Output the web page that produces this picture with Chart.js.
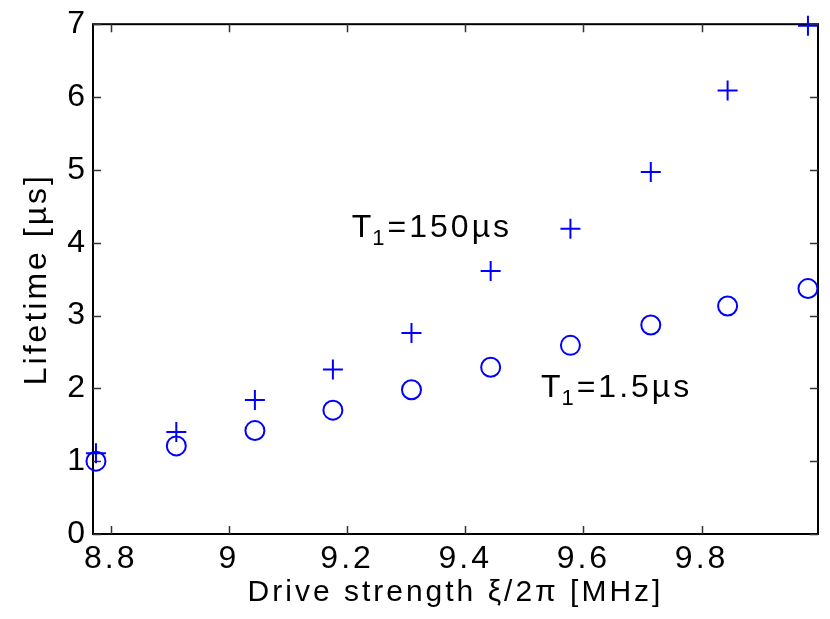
<!DOCTYPE html>
<html>
<head>
<meta charset="utf-8">
<script src="https://cdn.jsdelivr.net/npm/chart.js@4.4.0/dist/chart.umd.min.js"></script>
<style>
    html, body { margin: 0; padding: 0; background: #fff; }
</style>
</head>
<body>
<canvas id="myChart" width="830" height="619"></canvas>
<script>
// drive strength xi/2pi [MHz]
const drive = [8.775, 8.911, 9.044, 9.176, 9.309, 9.443, 9.578, 9.714, 9.844, 9.98];
// lifetime [us] for T1 = 150us (crosses)
const lifeLongT1 = [1.11, 1.40, 1.84, 2.26, 2.76, 3.61, 4.19, 4.97, 6.09, 6.98];
// lifetime [us] for T1 = 1.5us (circles)
const lifeShortT1 = [1.00, 1.21, 1.42, 1.70, 1.98, 2.29, 2.59, 2.87, 3.13, 3.37];

const xTicks = [8.8, 9, 9.2, 9.4, 9.6, 9.8];
const yTicks = [0, 1, 2, 3, 4, 5, 6, 7];

// text labels inside the plot, anchored in data units
const notes = [
    { text: 'T', sub: '1', rest: '=150µs', x: 9.208, y: 4.08 },
    { text: 'T', sub: '1', rest: '=1.5µs', x: 9.528, y: 1.885 }
];

const FONT = '"Liberation Sans", Arial, sans-serif';
const BLUE = '#0000ff';

const toPoints = (xs, ys) => xs.map((v, i) => ({ x: v, y: ys[i] }));

// matlab-like box with inward ticks + in-plot labels
const matlabBox = {
    id: 'matlabBox',
    beforeDraw(chart) {
        chart.ctx.letterSpacing = '3px';
    },
    beforeDatasetsDraw(chart) {
        const { ctx, chartArea: a, scales: { x, y } } = chart;
        ctx.save();
        ctx.strokeStyle = '#000';
        ctx.lineWidth = 2;
        ctx.strokeRect(a.left, a.top, a.right - a.left, a.bottom - a.top);
        ctx.strokeStyle = '#333';
        ctx.lineWidth = 1.5;
        ctx.beginPath();
        x.ticks.forEach(t => {
            const px = Math.round(x.getPixelForValue(t.value)) + 0.5;
            ctx.moveTo(px, a.bottom); ctx.lineTo(px, a.bottom - 8);
            ctx.moveTo(px, a.top); ctx.lineTo(px, a.top + 8);
        });
        y.ticks.forEach(t => {
            const py = Math.round(y.getPixelForValue(t.value)) + 0.5;
            ctx.moveTo(a.left, py); ctx.lineTo(a.left + 8, py);
            ctx.moveTo(a.right, py); ctx.lineTo(a.right - 8, py);
        });
        ctx.stroke();
        ctx.restore();
    },
    afterDatasetsDraw(chart) {
        const { ctx, scales: { x, y } } = chart;
        ctx.save();
        ctx.fillStyle = '#000';
        ctx.textAlign = 'left';
        ctx.textBaseline = 'alphabetic';
        notes.forEach(n => {
            let px = x.getPixelForValue(n.x);
            const py = y.getPixelForValue(n.y);
            ctx.font = '32px ' + FONT;
            ctx.fillText(n.text, px, py);
            px += ctx.measureText(n.text).width - 2;
            ctx.font = '22px ' + FONT;
            ctx.fillText(n.sub, px, py + 8);
            px += ctx.measureText(n.sub).width;
            ctx.font = '32px ' + FONT;
            ctx.fillText(n.rest, px, py);
        });
        ctx.restore();
    }
};

const config = {
    type: 'scatter',
    data: {
        datasets: [{
            label: 'T1=150us',
            data: toPoints(drive, lifeLongT1),
            pointStyle: 'cross',
            pointRadius: 10,
            borderColor: BLUE,
            borderWidth: 2,
            clip: false
        }, {
            label: 'T1=1.5us',
            data: toPoints(drive, lifeShortT1),
            pointStyle: 'circle',
            pointRadius: 9.5,
            borderColor: BLUE,
            backgroundColor: 'rgba(0,0,0,0)',
            borderWidth: 2,
            clip: false
        }]
    },
    options: {
        responsive: false,
        animation: false,
        layout: { padding: { top: 24, right: 8, left: 0, bottom: 0 } },
        plugins: {
            legend: false,
            tooltip: { enabled: false }
        },
        scales: {
            x: {
                type: 'linear',
                min: 8.77,
                max: 9.997,
                afterBuildTicks: s => { s.ticks = xTicks.map(v => ({ value: v })); },
                afterFit: s => { s.height = 85; },
                grid: { display: false, drawTicks: false },
                border: { display: false },
                ticks: {
                    color: '#000',
                    font: { family: FONT, size: 32 },
                    padding: 6,
                    maxRotation: 0,
                    autoSkip: false,
                    callback: v => String(v)
                },
                title: {
                    display: true,
                    text: 'Drive strength ξ/2π [MHz]',
                    color: '#000',
                    font: { family: FONT, size: 30 },
                    padding: { top: 0, bottom: 8 }
                }
            },
            y: {
                type: 'linear',
                min: 0,
                max: 7,
                afterBuildTicks: s => { s.ticks = yTicks.map(v => ({ value: v })); },
                afterFit: s => { s.width = 93; },
                grid: { display: false, drawTicks: false },
                border: { display: false },
                ticks: {
                    color: '#000',
                    font: { family: FONT, size: 32 },
                    padding: 5,
                    autoSkip: false,
                    callback: v => String(v)
                },
                title: {
                    display: true,
                    text: 'Lifetime [µs]',
                    color: '#000',
                    font: { family: FONT, size: 32 },
                    padding: { top: 18, bottom: 0 }
                }
            }
        }
    },
    plugins: [matlabBox]
};

const myChart = new Chart(document.getElementById('myChart'), config);
</script>
</body>
</html>
